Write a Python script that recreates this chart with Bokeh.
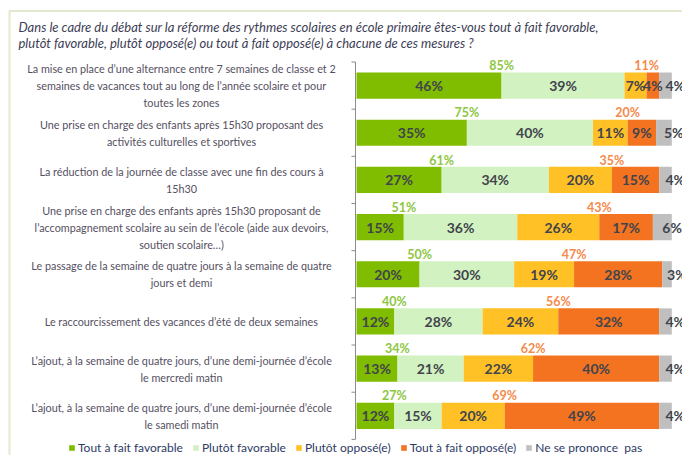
from bokeh.plotting import figure
from bokeh.models import ColumnDataSource, Range1d, Label, BoxAnnotation, Legend, LegendItem
from bokeh.core.properties import value
from bokeh.embed import file_html
from bokeh.resources import INLINE

# ---------------- data ----------------
title_lines = [
    "Dans le cadre du débat sur la réforme des rythmes scolaires en école primaire êtes-vous tout à fait favorable,",
    "plutôt favorable, plutôt opposé(e) ou tout à fait opposé(e) à chacune de ces mesures ?",
]
categories = [
    "La mise en place d’une alternance entre 7 semaines de classe et 2\nsemaines de vacances tout au long de l’année scolaire et pour\ntoutes les zones",
    "Une prise en charge des enfants après 15h30 proposant des\nactivités culturelles et sportives",
    "La réduction de la journée de classe avec une fin des cours à\n15h30",
    "Une prise en charge des enfants après 15h30 proposant de\nl’accompagnement scolaire au sein de l’école (aide aux devoirs,\nsoutien scolaire…)",
    "Le passage de la semaine de quatre jours à la semaine de quatre\njours et demi",
    "Le raccourcissement des vacances d’été de deux semaines",
    "L’ajout, à la semaine de quatre jours, d’une demi-journée d’école\nle mercredi matin",
    "L’ajout, à la semaine de quatre jours, d’une demi-journée d’école\nle samedi matin",
]
series_names = ["Tout à fait favorable", "Plutôt favorable", "Plutôt opposé(e)",
                "Tout à fait opposé(e)", "Ne se prononce  pas"]
tout_fav = [46, 35, 27, 15, 20, 12, 13, 12]
plutot_fav = [39, 40, 34, 36, 30, 28, 21, 15]
plutot_opp = [7, 11, 20, 26, 19, 24, 22, 20]
tout_opp = [4, 9, 15, 17, 28, 32, 40, 49]
nsp = [4, 5, 4, 6, 3, 4, 4, 4]
total_fav = [85, 75, 61, 51, 50, 40, 34, 27]
total_opp = [11, 20, 35, 43, 47, 56, 62, 69]

colors = ["#80BC00", "#D2F2C2", "#FFC125", "#F37321", "#BFBFBF"]
FONT = "Lato"

# ---------------- figure ----------------
W, H = 682, 455
PX_PER_PCT = 3.153      # horizontal scale (pixels per percent)
X0 = 356                # pixel where bars start
ROW_PX = 47.17          # pixels per row
Y0 = 85.1               # pixel of first row centre
xr = Range1d(-X0 / PX_PER_PCT, (W - X0) / PX_PER_PCT)
yr = Range1d((H - Y0) / ROW_PX, -Y0 / ROW_PX)


def dx(px):
    return (px - X0) / PX_PER_PCT


def dy(py):
    return (py - Y0) / ROW_PX


p = figure(width=W, height=H, output_backend="svg", toolbar_location=None,
           x_axis_location=None, y_axis_location=None, min_border=0,
           outline_line_color=None, x_range=xr, y_range=yr)
p.xgrid.visible = False
p.ygrid.visible = False
p.background_fill_color = "white"

rows = list(range(len(categories)))
keys = ["s0", "s1", "s2", "s3", "s4"]
src = ColumnDataSource(dict(y=rows, s0=tout_fav, s1=plutot_fav, s2=plutot_opp,
                            s3=tout_opp, s4=nsp))
renderers = p.hbar_stack(keys, y="y", height=0.555, color=colors, line_color=None,
                         source=src)

# axis line with ticks
p.segment(x0=[dx(355)], y0=[-0.5], x1=[dx(355)], y1=[len(rows) - 0.5],
          line_color="#8C8C8C", line_width=1)
bounds = [r - 0.5 for r in rows] + [len(rows) - 0.5]
p.segment(x0=[dx(351)] * len(bounds), y0=bounds, x1=[dx(355)] * len(bounds), y1=bounds,
          line_color="#8C8C8C", line_width=1)

# segment labels
all_series = [tout_fav, plutot_fav, plutot_opp, tout_opp, nsp]
lx, ly, lt = [], [], []
gx, gy, gt = [], [], []
for i in rows:
    start = 0
    for k, s in enumerate(all_series):
        v = s[i]
        c = start + v / 2
        if k == 4:
            gx.append(c); gy.append(i); gt.append(f"{v}%")
        else:
            lx.append(c); ly.append(i); lt.append(f"{v}%")
        start += v
p.text(x=lx, y=ly, text=lt, text_align="center", text_baseline="middle",
       text_font=value(FONT), text_font_style="bold", text_font_size="14px",
       text_color="#41444C")
p.text(x=gx, y=gy, text=gt, text_align="left", text_baseline="middle",
       text_font=value(FONT), text_font_style="bold", text_font_size="14px",
       text_color="#41444C")

# totals
p.text(x=tout_fav, y=[r - 0.42 for r in rows], text=[f"{v}%" for v in total_fav],
       text_align="center", text_baseline="middle", text_font=value(FONT),
       text_font_style="bold", text_font_size="12.5px", text_color="#8DC63F")
opp_x = [a + b + c for a, b, c in zip(tout_fav, plutot_fav, plutot_opp)]
p.text(x=opp_x, y=[r - 0.42 for r in rows], text=[f"{v}%" for v in total_opp],
       text_align="center", text_baseline="middle", text_font=value(FONT),
       text_font_style="bold", text_font_size="12.5px", text_color="#F58A4B")

# category labels
p.text(x=[dx(181)] * len(rows), y=rows, text=categories, text_align="center",
       text_baseline="middle", text_font=value(FONT), text_font_size="10.8px",
       text_line_height=1.3, text_color="#55505F")

# title
for j, line in enumerate(title_lines):
    p.add_layout(Label(x=18, y=H - 26.7 - 15.5 * j, x_units="screen", y_units="screen",
                       text=line, text_font=FONT, text_font_style="italic",
                       text_font_size="13px", text_color="#3D3D55",
                       text_baseline="middle"))

# green frame (only top and left edges fall inside the picture)
p.add_layout(BoxAnnotation(left=dx(9), right=dx(2000), top=dy(10.5), bottom=dy(2000),
                           fill_alpha=0, line_color="#9BBB59", line_width=2))

# legend
items = [LegendItem(label=n, renderers=[r]) for n, r in zip(series_names, renderers)]
legend = Legend(items=items, orientation="horizontal", location=(68, 0),
                border_line_alpha=0, background_fill_alpha=0, padding=0, margin=0,
                spacing=9, glyph_width=7, glyph_height=7, label_standoff=3,
                label_text_font=FONT, label_text_font_size="12px",
                label_text_color="#2E3A66", label_height=14)
p.add_layout(legend, "center")

open("out.html", "w").write(file_html(p, INLINE))
